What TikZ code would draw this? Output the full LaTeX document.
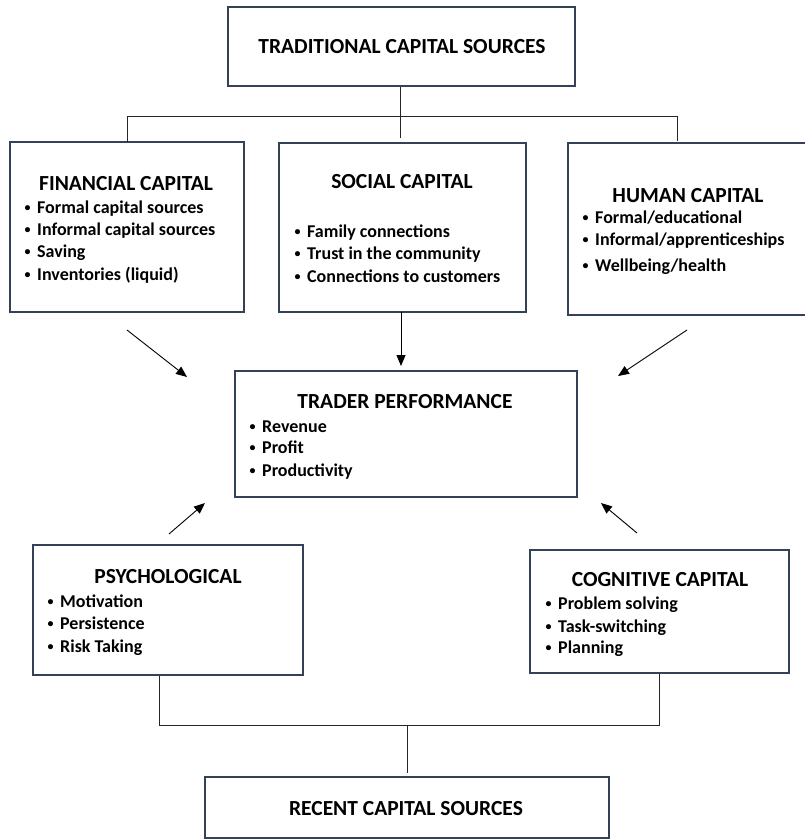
\documentclass[tikz,border=0pt]{standalone}
\usepackage{fontspec}
\setmainfont{Carlito}
\usetikzlibrary{arrows.meta}

\definecolor{boxedge}{RGB}{52,66,88}

% small bullet in front of every list entry
\newcommand{\dotmark}{\makebox[13pt][l]{\hspace{0.5pt}\raisebox{1.6pt}{\fontsize{12}{12}\selectfont\textbullet}}}

\tikzset{
  box/.style={draw=boxedge, line width=1.6pt, inner sep=0pt},
  title/.style={anchor=base, inner sep=0pt, font=\fontsize{21.5}{24}\selectfont\bfseries},
  item/.style={anchor=base west, inner sep=0pt, font=\fontsize{18}{22}\selectfont\bfseries},
  link/.style={draw=black!85, line width=0.9pt},
  flow/.style={draw=black, line width=0.9pt, -{Triangle[length=11pt,width=9pt]}},
}

\begin{document}
\begin{tikzpicture}[x=1pt, y=-1pt]
  \useasboundingbox (0,0) rectangle (804,840);

  % boxes
  \node[box, minimum width=347, minimum height=79]  (trad)   at (401.5,46.5) {};
  \node[box, minimum width=234, minimum height=170] (fin)    at (127,227) {};
  \node[box, minimum width=247, minimum height=169] (soc)    at (402.5,227.5) {};
  \node[box, minimum width=238, minimum height=172] (hum)    at (687,229) {};
  \node[box, minimum width=342, minimum height=126] (trader) at (406,434) {};
  \node[box, minimum width=270, minimum height=130] (psy)    at (168,610) {};
  \node[box, minimum width=259, minimum height=123] (cog)    at (659.5,611.5) {};
  \node[box, minimum width=404, minimum height=61]  (rec)    at (407,807.5) {};

  % titles
  \node[title] (tradT)   at (402,54)  {TRADITIONAL CAPITAL SOURCES};
  \node[title] (finT)    at (126,190) {FINANCIAL CAPITAL};
  \node[title] (socT)    at (402,188) {SOCIAL CAPITAL};
  \node[title] (humT)    at (688,202) {HUMAN CAPITAL};
  \node[title] (traderT) at (405,408) {TRADER PERFORMANCE};
  \node[title] (psyT)    at (168,583) {PSYCHOLOGICAL};
  \node[title] (cogT)    at (660,586) {COGNITIVE CAPITAL};
  \node[title] (recT)    at (406,815) {RECENT CAPITAL SOURCES};

  % bullet lists
  \foreach \y/\t [count=\i] in {213/Formal capital sources, 235/Informal capital sources,
                                257/Saving, 280/Inventories (liquid)}
    \node[item] (fin\i) at (24,\y) {\dotmark\t};
  \foreach \y/\t [count=\i] in {237/Family connections, 259/Trust in the community,
                                282/Connections to customers}
    \node[item] (soc\i) at (294,\y) {\dotmark\t};
  \foreach \y/\t [count=\i] in {223/{Formal/educational}, 245/{Informal/apprenticeships},
                                271/{Wellbeing/health}}
    \node[item] (hum\i) at (582,\y) {\dotmark\t};
  \foreach \y/\t [count=\i] in {432/Revenue, 453/Profit, 476/Productivity}
    \node[item] (trader\i) at (249,\y) {\dotmark\t};
  \foreach \y/\t [count=\i] in {607/Motivation, 629/Persistence, 652/Risk Taking}
    \node[item] (psy\i) at (47,\y) {\dotmark\t};
  \foreach \y/\t [count=\i] in {609/Problem solving, 632/Task-switching, 653/Planning}
    \node[item] (cog\i) at (545,\y) {\dotmark\t};

  % tree above
  \coordinate (topMid)   at (400,116);
  \coordinate (topEnd)   at (400,138);
  \coordinate (topLeft)  at (127,116);
  \coordinate (topRight) at (677,116);
  \coordinate (finTop)   at (127,142);
  \coordinate (humTop)   at (677,141);
  \draw[link] (trad.south -| topMid) -- (topEnd);
  \draw[link] (topLeft) -- (topRight);
  \draw[link] (topLeft) -- (finTop);
  \draw[link] (topRight) -- (humTop);

  % arrows into trader performance
  \coordinate (finFrom) at (127,330);
  \coordinate (finTo)   at (187,377);
  \coordinate (socFrom) at (401,312);
  \coordinate (socTo)   at (401,366);
  \coordinate (humFrom) at (687,330);
  \coordinate (humTo)   at (618,376);
  \coordinate (psyFrom) at (169,534);
  \coordinate (psyTo)   at (205,503);
  \coordinate (cogFrom) at (637,533);
  \coordinate (cogTo)   at (601,503);
  \draw[flow] (finFrom) -- (finTo);
  \draw[flow] (socFrom) -- (socTo);
  \draw[flow] (humFrom) -- (humTo);
  \draw[flow] (psyFrom) -- (psyTo);
  \draw[flow] (cogFrom) -- (cogTo);

  % tree below
  \coordinate (psyDrop) at (159,725);
  \coordinate (cogDrop) at (659,725);
  \coordinate (botMid)  at (407,725);
  \coordinate (recTop)  at (407,773);
  \draw[link] (psy.south -| psyDrop) -- (psyDrop) -- (cogDrop) -- (cog.south -| cogDrop);
  \draw[link] (botMid) -- (recTop);
\end{tikzpicture}
\end{document}
